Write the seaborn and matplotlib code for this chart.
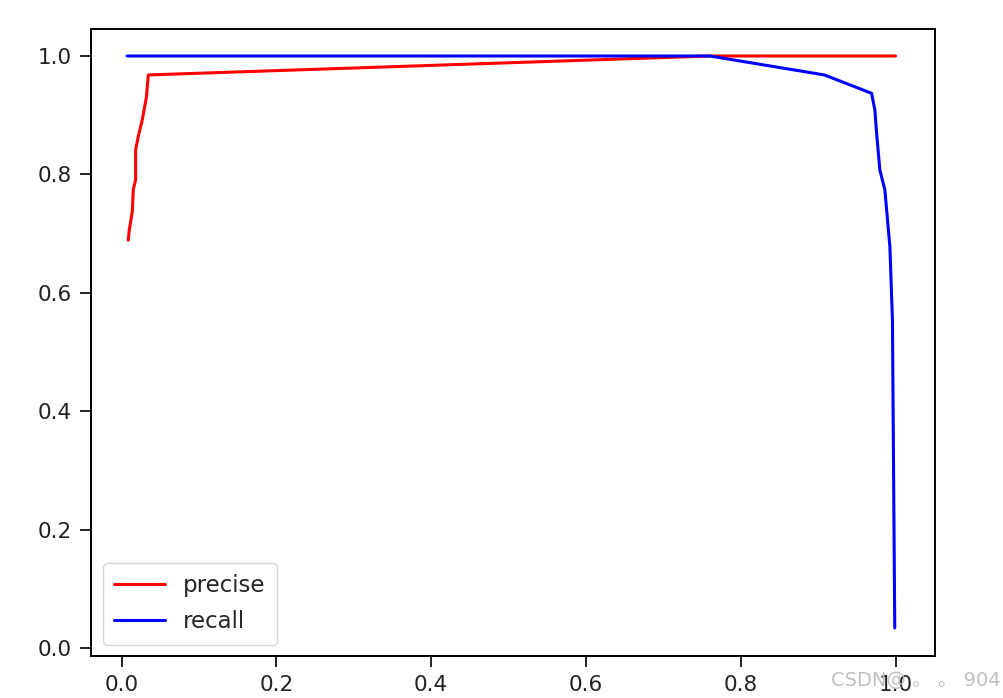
import matplotlib
matplotlib.use("Agg")
import matplotlib.pyplot as plt
import seaborn as sns
import pandas as pd

# precise curve
precise_x = [0.0085, 0.0098, 0.0137, 0.015, 0.018, 0.018, 0.0214, 0.0266, 0.032, 0.0344, 0.76, 1.0]
precise_y = [0.689, 0.706, 0.737, 0.774, 0.791, 0.841, 0.864, 0.892, 0.931, 0.968, 1.0, 1.0]

# recall curve
recall_x = [0.007, 0.76, 0.908, 0.969, 0.9733, 0.9755, 0.9798, 0.9862, 0.9927, 0.996, 0.999]
recall_y = [1.0, 1.0, 0.968, 0.937, 0.909, 0.870, 0.807, 0.774, 0.678, 0.554, 0.034]

sns.set_style("ticks")
plt.rcParams['font.family'] = ['DejaVu Sans', 'Noto Sans CJK SC']

fig = plt.figure(figsize=(10.04, 6.98), dpi=100)
ax = fig.add_axes([91.5 / 1004, 42 / 698, (935 - 91.5) / 1004, (656 - 29) / 698])

df_p = pd.DataFrame({"x": precise_x, "y": precise_y})
df_r = pd.DataFrame({"x": recall_x, "y": recall_y})

sns.lineplot(data=df_p, x="x", y="y", ax=ax, color="red", label="precise",
             sort=False, estimator=None, linewidth=2.2)
sns.lineplot(data=df_r, x="x", y="y", ax=ax, color="blue", label="recall",
             sort=False, estimator=None, linewidth=2.2)

ax.set_xlim(-0.039, 1.051)
ax.set_ylim(-0.0135, 1.0456)
ax.set_xticks([0.0, 0.2, 0.4, 0.6, 0.8, 1.0])
ax.set_yticks([0.0, 0.2, 0.4, 0.6, 0.8, 1.0])
ax.set_xlabel("")
ax.set_ylabel("")
for s in ax.spines.values():
    s.set_visible(True)
    s.set_linewidth(1.4)
    s.set_color("black")
ax.tick_params(labelsize=15.5, length=8, width=1.4, pad=6, color="#222222", labelcolor="#222222")
ax.legend(loc="lower left", fontsize=16.5, frameon=True, handlelength=2.2,
          labelspacing=0.55, borderpad=0.5)

fig.text(0.997, 0.012, "CSDN@ 。 。 904", ha="right", va="bottom", fontsize=14,
         color="#c0c0c0")

fig.savefig("out.png", dpi=100)
